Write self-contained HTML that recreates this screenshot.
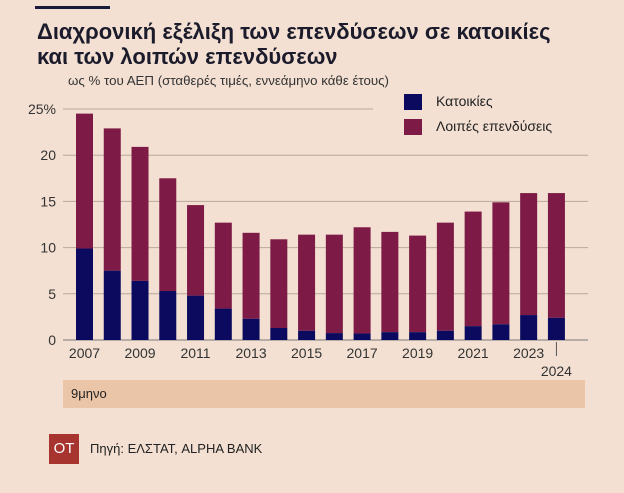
<!DOCTYPE html>
<html><head><meta charset="utf-8"><style>
body{margin:0;width:624px;height:493px;background:#f3e0d2;font-family:"Liberation Sans","DejaVu Sans",sans-serif;overflow:hidden;position:relative}
.abs{position:absolute}
</style></head><body>
<div class="abs" style="left:35px;top:6px;width:75px;height:3px;background:#1a1a3a"></div>
<div class="abs" style="left:37px;top:19px;font-size:22px;font-weight:bold;color:#1b1b2b;line-height:25px;white-space:nowrap">Διαχρονική εξέλιξη των επενδύσεων σε κατοικίες<br>και των λοιπών επενδύσεων</div>
<div class="abs" style="left:68px;top:73px;font-size:13.3px;color:#333">ως % του ΑΕΠ (σταθερές τιμές, εννεάμηνο κάθε έτους)</div>
<div class="abs" style="left:404px;top:93px;font-size:14px;color:#222"><span style="display:inline-block;width:18px;height:16px;background:#0c0a5e;vertical-align:middle;margin-right:14px"></span>Κατοικίες</div>
<div class="abs" style="left:404px;top:118px;font-size:14px;color:#222"><span style="display:inline-block;width:18px;height:16px;background:#7d1a45;vertical-align:middle;margin-right:14px"></span>Λοιπές επενδύσεις</div>
<svg class="abs" style="left:0;top:0" width="624" height="380" id="chart"></svg>
<div class="abs" style="left:63px;top:380px;width:522px;height:28px;background:#eac5a8;font-size:13px;color:#222;line-height:28px;text-indent:8px">9μηνο</div>
<div class="abs" style="left:49px;top:434px;width:30px;height:30px;background:#a8342f;color:#fff;font-size:15px;line-height:30px;text-align:center">ΟΤ</div>
<div class="abs" style="left:90px;top:441px;font-size:13px;color:#222">Πηγή: ΕΛΣΤΑΤ, ALPHA BANK</div>
<script>
const years=[2007,2008,2009,2010,2011,2012,2013,2014,2015,2016,2017,2018,2019,2020,2021,2022,2023,2024];
const housing=[9.9,7.5,6.4,5.3,4.8,3.4,2.3,1.3,1.0,0.75,0.7,0.85,0.85,1.0,1.5,1.7,2.7,2.4];
const totals=[24.5,22.9,20.9,17.5,14.6,12.7,11.6,10.9,11.4,11.4,12.2,11.7,11.3,12.7,13.9,14.9,15.9,15.9];
const yTicks=[0,5,10,15,20,25];
const xLabels=["2007","2009","2011","2013","2015","2017","2019","2021","2023"];
const svg=document.getElementById('chart');
const NS='http://www.w3.org/2000/svg';
const y=v=>340-v*9.24;
const x=i=>76+i*27.76;
const bw=17;
function mk(t,a){const e=document.createElementNS(NS,t);for(const k in a)e.setAttribute(k,a[k]);svg.appendChild(e);return e;}
yTicks.forEach(t=>{
  const l=mk('line',{x1:63,x2:t===25?373:588,y1:y(t),y2:y(t),stroke:t===0?'#7a7a7a':'#b8a89c','stroke-width':1});
  
  
  const tx=mk('text',{x:56,y:y(t)+5,'text-anchor':'end','font-size':14,fill:'#333'});
  tx.textContent=t===25?'25%':t;
  
  
});
years.forEach((yr,i)=>{
  const o=mk('rect',{x:x(i),y:y(totals[i]),width:bw,height:y(housing[i])-y(totals[i]),fill:'#7d1a45'});
  
  
  const h=mk('rect',{x:x(i),y:y(housing[i]),width:bw,height:y(0)-y(housing[i]),fill:'#0c0a5e'});
  
  
  const lab=xLabels.indexOf(String(yr));
  if(lab>=0){
    const t=mk('text',{x:x(i)+bw/2,y:358,'text-anchor':'middle','font-size':14,fill:'#333'});
    t.textContent=yr;
    
    
  }
});
const last=years.length-1;
const tk=mk('line',{x1:x(last)+bw/2,x2:x(last)+bw/2,y1:342,y2:356,stroke:'#555'});


const t24=mk('text',{x:x(last)+bw/2,y:376,'text-anchor':'middle','font-size':14,fill:'#333'});
t24.textContent=years[last];


</script>
</body></html>
